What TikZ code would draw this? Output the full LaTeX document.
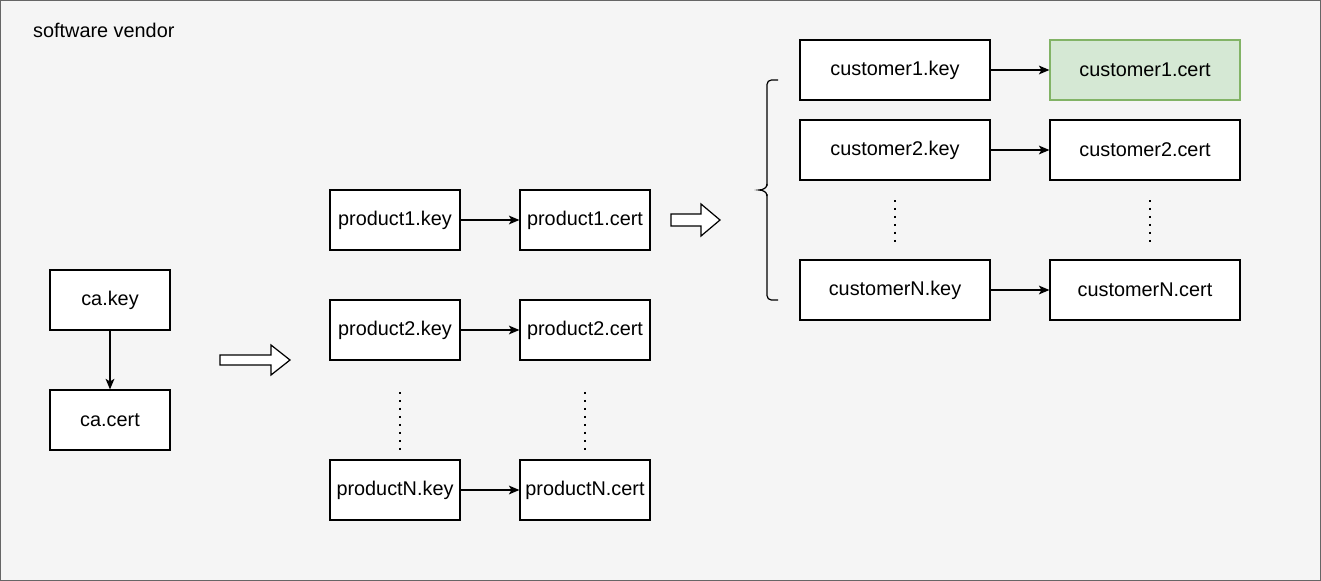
\documentclass[tikz,border=0pt]{standalone}
\usepackage{fontspec}
\setmainfont{Liberation Sans}
\usetikzlibrary{arrows.meta}
\definecolor{vendorbg}{HTML}{F5F5F5}
\definecolor{vendorline}{HTML}{666666}
\definecolor{certfill}{HTML}{D5E8D4}
\definecolor{certline}{HTML}{82B366}

\begin{document}
\begin{tikzpicture}[x=0.02cm, y=-0.02cm,
    every node/.style={font=\fontsize{11.3}{13.5}\selectfont},
    keybox/.style={draw, fill=white, line width=0.7pt, inner sep=0pt, minimum height=1.2cm},
    cabox/.style={keybox, minimum width=2.4cm},
    prodbox/.style={keybox, minimum width=2.6cm},
    custbox/.style={keybox, minimum width=3.8cm},
    link/.style={line width=0.7pt, -{Stealth[length=6pt,width=5pt,inset=1.5pt]}},
    dotline/.style={line width=1pt, dash pattern=on 0.9pt off 3.65pt},
    bigarrow/.style={draw, fill=white, line width=0.7pt, line join=miter}]
  % frame
  \useasboundingbox (0,0) rectangle (1321,581);
  \draw[fill=vendorbg, draw=vendorline, line width=1pt] (0.5,0.5) rectangle (1320.5,580.5);
  \node[anchor=west, name=vendor] at (27,30) {software vendor};

  % ca
  \node[cabox, name=cakey] at (110,300) {ca.key};
  \node[cabox, name=cacert] at (110,420) {ca.cert};
  \draw[link] (cakey) -- (cacert);

  % products
  \node[prodbox, name=p1key] at (395,220) {product1.key};
  \node[prodbox, name=p1cert] at (585,220) {product1.cert};
  \node[prodbox, name=p2key] at (395,330) {product2.key};
  \node[prodbox, name=p2cert] at (585,330) {product2.cert};
  \node[prodbox, name=pNkey] at (395,490) {productN.key};
  \node[prodbox, name=pNcert] at (585,490) {productN.cert};
  \draw[link] (p1key) -- (p1cert);
  \draw[link] (p2key) -- (p2cert);
  \draw[link] (pNkey) -- (pNcert);
  \draw[dotline] (400,392) -- (400,452);
  \draw[dotline] (585,392) -- (585,452);

  % customers
  \node[custbox, name=c1key] at (895,70) {customer1.key};
  \node[custbox, name=c1cert, fill=certfill, draw=certline] at (1145,70) {customer1.cert};
  \node[custbox, name=c2key] at (895,150) {customer2.key};
  \node[custbox, name=c2cert] at (1145,150) {customer2.cert};
  \node[custbox, name=cNkey] at (895,290) {customerN.key};
  \node[custbox, name=cNcert] at (1145,290) {customerN.cert};
  \draw[link] (c1key) -- (c1cert);
  \draw[link] (c2key) -- (c2cert);
  \draw[link] (cNkey) -- (cNcert);
  \draw[dotline] (895,200) -- (895,244);
  \draw[dotline] (1150,200) -- (1150,244);

  % block arrows
  \draw[bigarrow] (220,355) -- (271,355) -- (271,345) -- (290,360) -- (271,375)
    -- (271,365) -- (220,365) -- cycle;
  \draw[bigarrow] (671,214) -- (701,214) -- (701,204) -- (720,220) -- (701,236)
    -- (701,226) -- (671,226) -- cycle;

  % brace
  \draw[line width=0.7pt, rounded corners=2.5pt] (778,80) -- (767,80) -- (767,186);
  \draw[line width=0.7pt] (767,184) to[out=270,in=0] (759,190) to[out=0,in=90] (767,196);
  \draw[line width=0.7pt, rounded corners=2.5pt] (767,194) -- (767,300) -- (778,300);
\end{tikzpicture}
\end{document}
